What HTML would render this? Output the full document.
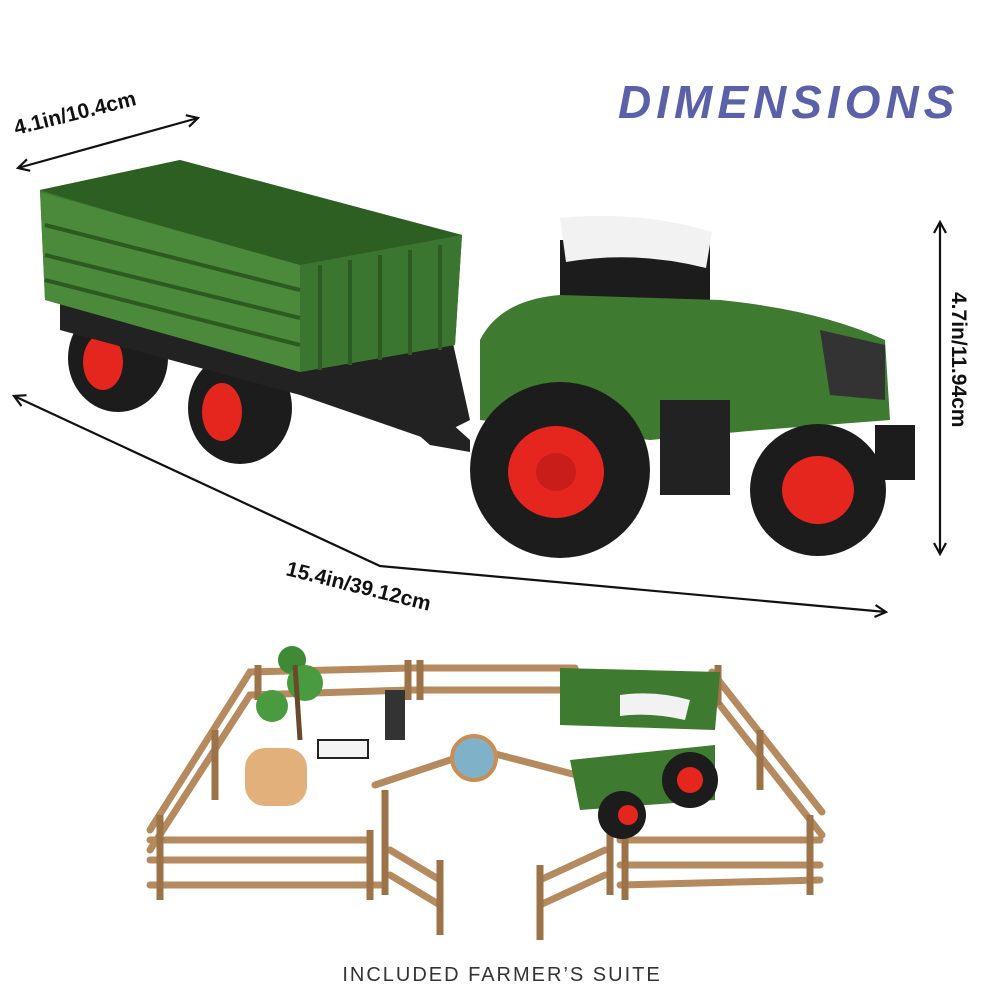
<!DOCTYPE html>
<html><head><meta charset="utf-8"><style>
html,body{margin:0;padding:0;background:#fff}
svg{display:block}
</style></head><body>
<svg width="1000" height="1000" viewBox="0 0 1000 1000" xmlns="http://www.w3.org/2000/svg">
<defs>
<marker id="ah" markerWidth="14" markerHeight="14" refX="12" refY="7" orient="auto-start-reverse" markerUnits="userSpaceOnUse">
<path d="M1,1 L12,7 L1,13" fill="none" stroke="#111" stroke-width="2.2"/>
</marker>
</defs>
<rect width="1000" height="1000" fill="#fff"/>
<text x="618" y="118" font-family="Liberation Sans,sans-serif" font-weight="bold" font-style="italic" font-size="46" letter-spacing="5" fill="#5a61a9">DIMENSIONS</text>
<line x1="18" y1="168" x2="198" y2="118" stroke="#111" stroke-width="2.2" marker-start="url(#ah)" marker-end="url(#ah)"/>
<text x="16" y="135" font-family="Liberation Sans,sans-serif" font-weight="bold" font-size="21" fill="#111" transform="rotate(-14 16 135)">4.1in/10.4cm</text>
<polyline points="14,396 380,566 886,612" fill="none" stroke="#111" stroke-width="2.2" marker-start="url(#ah)" marker-end="url(#ah)"/>
<text x="285" y="575" font-family="Liberation Sans,sans-serif" font-weight="bold" font-size="21" fill="#111" transform="rotate(14 285 575)">15.4in/39.12cm</text>
<line x1="940" y1="222" x2="940" y2="554" stroke="#111" stroke-width="2.2" marker-start="url(#ah)" marker-end="url(#ah)"/>
<text x="952" y="292" font-family="Liberation Sans,sans-serif" font-weight="bold" font-size="21" fill="#111" transform="rotate(90 952 292)">4.7in/11.94cm</text>
<g>
<ellipse cx="118" cy="358" rx="50" ry="54" fill="#1c1c1c"/>
<ellipse cx="103" cy="362" rx="20" ry="28" fill="#e4261f"/>
<ellipse cx="240" cy="408" rx="52" ry="56" fill="#1c1c1c"/>
<ellipse cx="222" cy="412" rx="20" ry="29" fill="#e4261f"/>
<path d="M60,300 L450,330 L470,420 L430,440 L300,395 L60,330Z" fill="#222"/>
<path d="M40,190 L180,160 L462,235 L455,345 L300,372 L45,300Z" fill="#3c7a2f"/>
<path d="M40,190 L180,160 L462,235 L300,270Z" fill="#2d5f22"/>
<path d="M40,192 L300,265 L300,372 L45,300Z" fill="#4a8a3a"/>
<path d="M300,265 L462,235 L455,345 L300,372Z" fill="#3a7630"/>
<g stroke="#2c5a21" stroke-width="4">
<line x1="45" y1="225" x2="300" y2="290"/><line x1="45" y1="255" x2="300" y2="318"/><line x1="45" y1="280" x2="300" y2="345"/>
<line x1="320" y1="265" x2="320" y2="370"/><line x1="350" y1="260" x2="350" y2="365"/><line x1="380" y1="255" x2="380" y2="360"/><line x1="410" y1="250" x2="410" y2="355"/><line x1="440" y1="245" x2="440" y2="350"/>
</g>
</g>
<g>
<path d="M380,380 L420,395 L470,440 L470,452 L430,445 L390,410Z" fill="#222"/>
<rect x="560" y="240" width="150" height="160" fill="#1c1c1c"/>
<path d="M560,218 Q640,210 712,232 L706,268 Q635,250 566,262Z" fill="#f2f2f2"/>
<path d="M480,340 Q500,300 560,295 L720,300 Q820,310 885,340 L890,420 L760,430 L650,440 L480,420Z" fill="#3e7a2f"/>
<path d="M820,330 L885,345 L885,400 L830,395Z" fill="#333"/>
<ellipse cx="560" cy="470" rx="90" ry="88" fill="#1c1c1c"/>
<ellipse cx="556" cy="472" rx="48" ry="46" fill="#e4261f"/>
<ellipse cx="556" cy="472" rx="20" ry="19" fill="#c81d18"/>
<ellipse cx="818" cy="490" rx="68" ry="66" fill="#1c1c1c"/>
<ellipse cx="818" cy="490" rx="36" ry="34" fill="#e4261f"/>
<rect x="875" y="425" width="40" height="55" fill="#1c1c1c"/>
<rect x="660" y="400" width="70" height="95" fill="#222"/>
</g>
<g fill="none" stroke="#b58a5e" stroke-width="7" stroke-linecap="round">
<polyline points="150,830 250,672 410,668 575,668"/>
<polyline points="150,850 250,695 410,690 560,690"/>
<polyline points="150,860 370,860"/>
<polyline points="150,885 380,885"/>
<polyline points="150,840 370,840"/>
<polyline points="620,840 820,840"/>
<polyline points="620,865 820,865"/>
<polyline points="620,885 820,880"/>
<polyline points="712,672 822,812"/>
<polyline points="712,695 822,835"/>
<polyline points="375,785 480,750 615,785"/>
<polyline points="390,850 440,880"/>
<polyline points="390,875 440,905"/>
<polyline points="540,880 605,850"/>
<polyline points="540,905 605,875"/>
</g>
<g stroke="#9c7348" stroke-width="7">
<line x1="160" y1="815" x2="160" y2="900"/><line x1="215" y1="730" x2="215" y2="800"/><line x1="258" y1="665" x2="258" y2="700"/>
<line x1="370" y1="830" x2="370" y2="900"/><line x1="385" y1="790" x2="385" y2="895"/><line x1="610" y1="790" x2="610" y2="895"/>
<line x1="625" y1="830" x2="625" y2="900"/><line x1="810" y1="815" x2="810" y2="895"/><line x1="760" y1="730" x2="760" y2="790"/>
<line x1="408" y1="660" x2="408" y2="700"/><line x1="420" y1="660" x2="420" y2="700"/><line x1="718" y1="665" x2="718" y2="705"/>
<line x1="440" y1="860" x2="440" y2="935"/><line x1="540" y1="865" x2="540" y2="940"/>
</g>
<rect x="245" y="748" width="62" height="58" rx="20" fill="#e2b07a"/>
<circle cx="292" cy="660" r="14" fill="#3e8a35"/><circle cx="305" cy="683" r="18" fill="#4a9b3f"/><circle cx="272" cy="706" r="16" fill="#4a9b3f"/>
<line x1="295" y1="665" x2="300" y2="740" stroke="#6b4a2c" stroke-width="5"/>
<path d="M318,740 h50 v18 h-50z" fill="#f4f4f4" stroke="#222" stroke-width="2"/>
<rect x="385" y="690" width="20" height="50" fill="#333"/>
<circle cx="474" cy="758" r="22" fill="#7fb2c8" stroke="#c98d55" stroke-width="4"/>
<path d="M560,668 L720,672 L715,730 L560,725Z" fill="#3e7a2f"/>
<path d="M620,695 Q655,690 690,700 L685,720 Q650,712 620,716Z" fill="#f2f2f2"/>
<path d="M570,760 L715,745 L715,800 L580,810Z" fill="#3e7a2f"/>
<circle cx="690" cy="780" r="28" fill="#1c1c1c"/><circle cx="690" cy="780" r="13" fill="#e4261f"/>
<circle cx="622" cy="815" r="24" fill="#1c1c1c"/><circle cx="628" cy="815" r="10" fill="#e4261f"/>
<text x="502" y="981" text-anchor="middle" font-family="Liberation Sans,sans-serif" font-size="20" letter-spacing="2" fill="#333">INCLUDED FARMER’S SUITE</text>
</svg>
</body></html>
